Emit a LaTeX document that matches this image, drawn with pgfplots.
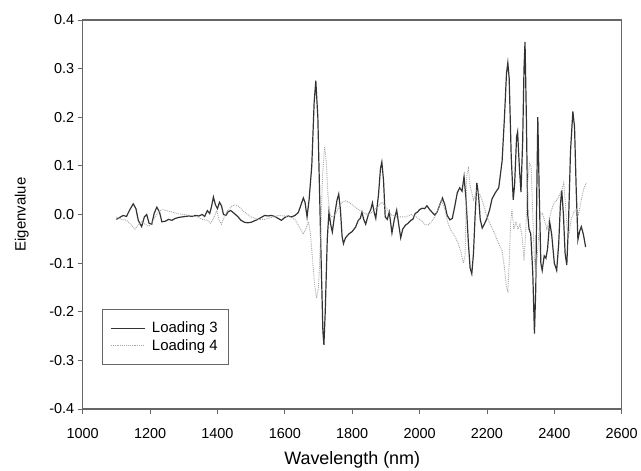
\documentclass[border=0pt]{standalone}
\usepackage{pgfplots}
\pgfplotsset{compat=1.18}
\usepackage{fontspec}
\setmainfont{Liberation Sans}
\definecolor{axgray}{gray}{0.4}
\begin{document}
\begin{tikzpicture}
\begin{axis}[
  name=ax,
  scale only axis, width=539bp, height=389bp,
  xmin=1000, xmax=2600, ymin=-0.4, ymax=0.4,
  xtick={1000,1200,...,2600},
  ytick={-0.4,-0.3,...,0.4},
  yticklabel style={/pgf/number format/fixed,/pgf/number format/fixed zerofill,/pgf/number format/precision=1},
  xticklabel style={/pgf/number format/1000 sep={}, /tikz/yshift=-11bp},
  /pgf/number format/assume math mode=true,
  tick label style={font=\fontsize{14.5}{16}\selectfont},
  xlabel={Wavelength (nm)}, ylabel={Eigenvalue},
  xlabel style={at={(axis description cs:0.5,-0.132)}, anchor=center, font=\fontsize{18}{20}\selectfont},
  ylabel style={at={(axis description cs:-0.1132,0.5)}, anchor=center, font=\fontsize{15}{17}\selectfont},
  tick align=outside, major tick length=5bp,
  xtick pos=bottom, ytick pos=left,
  axis line style={axgray, line width=1.1pt},
  every tick/.style={axgray, line width=0.9pt},
  legend style={at={(rel axis cs:0.0355,0.2565)}, anchor=north west,
    draw=axgray, line width=0.9pt, font=\fontsize{15}{17}\selectfont,
    inner xsep=8bp, inner ysep=10bp, row sep=0bp, column sep=4bp,
    nodes={inner sep=2.5bp}},
  legend cell align=left,
  legend image code/.code={\draw[#1] (0bp,0bp) -- (34bp,0bp);},
]
\addplot[black!80, line width=1.2pt] coordinates {
(1100,-0.010)(1110,-0.006)(1120,-0.002)(1130,-0.004)(1140,0.010)(1150,0.022)
(1158,0.012)(1165,-0.012)(1175,-0.025)(1183,-0.005)(1190,0.000)(1197,-0.018)
(1205,-0.020)(1212,0.002)(1220,0.015)(1228,0.005)(1235,-0.015)(1245,-0.014)
(1255,-0.010)(1265,-0.012)(1275,-0.008)(1285,-0.006)(1295,-0.005)(1305,-0.004)
(1315,-0.003)(1325,-0.004)(1335,-0.002)(1345,-0.003)(1355,0.000)(1362,-0.004)
(1370,0.008)(1377,0.002)(1382,0.015)(1388,0.036)(1394,0.020)(1400,0.012)
(1406,0.025)(1412,0.018)(1418,0.000)(1425,-0.002)(1432,0.006)(1440,0.008)
(1450,0.002)(1460,-0.004)(1470,-0.012)(1480,-0.016)(1490,-0.017)(1500,-0.016)
(1510,-0.013)(1520,-0.010)(1530,-0.006)(1540,-0.002)(1550,-0.003)(1560,-0.002)
(1570,-0.004)(1580,-0.008)(1590,-0.012)(1600,-0.006)(1610,-0.003)(1620,-0.005)
(1630,-0.002)(1640,0.004)(1648,0.020)(1655,0.034)(1660,0.025)(1666,-0.005)
(1672,0.030)(1680,0.100)(1687,0.230)(1692,0.275)(1698,0.200)(1703,0.050)
(1708,-0.100)(1713,-0.240)(1716,-0.268)(1720,-0.200)(1726,-0.050)(1731,0.005)
(1736,-0.020)(1741,-0.036)(1748,0.000)(1755,0.030)(1760,0.042)(1765,0.010)
(1770,-0.045)(1774,-0.060)(1780,-0.048)(1790,-0.040)(1800,-0.035)(1810,-0.026)
(1818,-0.012)(1824,-0.008)(1829,0.005)(1834,-0.010)(1840,-0.020)(1848,0.000)
(1855,0.010)(1860,0.024)(1865,0.005)(1870,-0.008)(1878,0.040)(1884,0.095)
(1888,0.108)(1893,0.070)(1898,-0.005)(1904,-0.010)(1910,0.005)(1918,-0.038)
(1925,-0.010)(1932,0.009)(1938,-0.020)(1944,-0.048)(1950,-0.030)(1958,-0.022)
(1966,-0.018)(1974,-0.012)(1980,-0.010)(1987,0.002)(1994,0.005)(2000,0.010)
(2008,0.013)(2015,0.012)(2022,0.018)(2030,0.010)(2038,0.004)(2045,-0.001)
(2052,0.005)(2060,0.020)(2068,0.034)(2075,0.020)(2082,-0.002)(2090,-0.011)
(2097,-0.008)(2104,0.015)(2112,0.045)(2119,0.055)(2126,0.048)(2132,0.078)
(2138,0.030)(2145,-0.060)(2150,-0.110)(2155,-0.122)(2160,-0.080)(2165,0.000)
(2170,0.065)(2175,0.040)(2180,-0.010)(2186,-0.028)(2192,-0.020)(2200,-0.008)
(2208,0.010)(2215,0.032)(2225,0.045)(2235,0.055)(2245,0.110)(2252,0.200)
(2258,0.290)(2262,0.312)(2266,0.280)(2272,0.120)(2278,0.030)(2282,0.060)
(2288,0.160)(2291,0.170)(2296,0.100)(2301,0.046)(2306,0.150)(2310,0.300)
(2313,0.355)(2317,0.200)(2321,0.000)(2325,-0.030)(2330,-0.040)(2336,-0.120)
(2341,-0.245)(2345,-0.150)(2348,0.050)(2351,0.200)(2355,0.050)(2360,-0.100)
(2364,-0.115)(2370,-0.085)(2375,-0.090)(2380,-0.070)(2386,-0.015)(2392,-0.040)
(2400,-0.100)(2407,-0.115)(2413,-0.060)(2418,0.020)(2422,0.050)(2427,0.000)
(2432,-0.080)(2437,-0.104)(2442,-0.020)(2448,0.130)(2455,0.212)(2460,0.180)
(2465,0.050)(2470,-0.052)(2475,-0.035)(2480,-0.025)(2486,-0.040)(2493,-0.067)
};
\addlegendentry{Loading 3}
\addplot[gray!70, line width=0.9pt, densely dotted] coordinates {
(1100,-0.005)(1115,-0.010)(1130,-0.012)(1145,-0.022)(1155,-0.030)(1165,-0.022)
(1175,-0.015)(1185,-0.020)(1195,-0.024)(1205,-0.018)(1215,-0.005)(1225,0.005)
(1235,0.010)(1250,0.008)(1265,0.005)(1280,0.002)(1300,0.000)(1320,-0.002)
(1340,-0.005)(1355,-0.010)(1370,-0.012)(1380,-0.018)(1390,-0.005)(1398,0.008)
(1405,-0.012)(1412,-0.020)(1420,-0.005)(1430,0.008)(1440,0.015)(1450,0.020)
(1460,0.018)(1470,0.012)(1480,0.005)(1490,0.000)(1500,-0.005)(1520,-0.010)
(1540,-0.010)(1560,-0.006)(1580,-0.002)(1600,-0.003)(1615,-0.005)(1630,-0.010)
(1645,-0.028)(1655,-0.040)(1662,-0.030)(1670,-0.015)(1676,-0.040)(1682,-0.090)
(1688,-0.140)(1694,-0.172)(1700,-0.150)(1706,-0.050)(1712,0.080)(1718,0.140)
(1723,0.110)(1728,0.040)(1734,0.000)(1740,-0.005)(1750,0.000)(1760,0.015)
(1770,0.025)(1780,0.028)(1790,0.025)(1800,0.020)(1815,0.012)(1830,0.005)
(1845,0.000)(1860,0.005)(1875,0.015)(1888,0.025)(1900,0.015)(1915,0.000)
(1930,-0.005)(1945,-0.005)(1960,-0.005)(1975,0.000)(1990,-0.005)(2005,-0.012)
(2015,-0.020)(2025,-0.022)(2035,-0.015)(2045,-0.005)(2055,0.010)(2065,0.030)
(2075,0.010)(2085,-0.020)(2095,-0.035)(2105,-0.045)(2115,-0.060)(2122,-0.075)
(2130,-0.100)(2135,-0.085)(2140,0.080)(2145,0.095)(2150,0.060)(2160,0.030)
(2170,0.050)(2180,0.040)(2190,0.020)(2200,-0.005)(2210,-0.020)(2220,-0.035)
(2235,-0.060)(2245,-0.075)(2252,-0.110)(2258,-0.150)(2262,-0.158)(2266,-0.100)
(2270,-0.020)(2274,0.010)(2280,-0.030)(2286,-0.015)(2292,-0.030)(2298,-0.020)
(2305,-0.050)(2310,-0.095)(2315,-0.040)(2320,0.060)(2326,0.105)(2331,0.100)
(2336,0.000)(2340,-0.080)(2345,-0.130)(2350,-0.080)(2355,-0.030)(2360,0.000)
(2365,0.002)(2370,-0.010)(2378,-0.030)(2385,-0.010)(2392,0.010)(2400,0.025)
(2408,0.030)(2415,0.040)(2422,0.050)(2428,0.065)(2432,0.030)(2438,-0.030)
(2444,-0.040)(2450,-0.010)(2458,0.005)(2465,0.010)(2472,0.000)(2480,0.030)
(2488,0.055)(2495,0.065)
};
\addlegendentry{Loading 4}
\end{axis}
\pgfresetboundingbox
\path[use as bounding box] ([shift={(-82.7bp,-62bp)}]ax.south west) rectangle ([shift={(19.3bp,20bp)}]ax.north east);
\end{tikzpicture}
\end{document}
